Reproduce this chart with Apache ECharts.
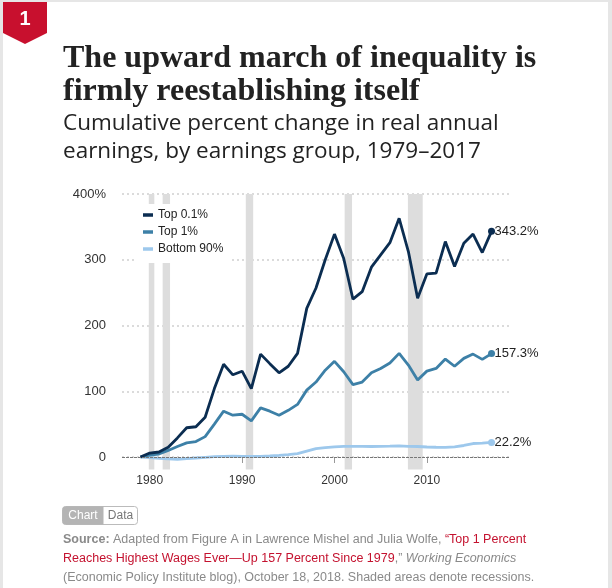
<!DOCTYPE html>
<html><head><meta charset="utf-8">
<script src="https://cdn.jsdelivr.net/npm/echarts@6/dist/echarts.min.js"></script>
<style>
html,body{margin:0;padding:0;background:#e6e6e6;width:612px;height:588px;overflow:hidden}
#card{position:absolute;left:3px;top:2px;width:605px;height:586px;background:#fff}
#chart{position:absolute;left:0;top:0;width:612px;height:588px}
</style></head><body><div id="card"></div><div id="chart"></div>
<script>
const years = [1979,1980,1981,1982,1983,1984,1985,1986,1987,1988,1989,1990,1991,1992,1993,1994,1995,1996,1997,1998,1999,2000,2001,2002,2003,2004,2005,2006,2007,2008,2009,2010,2011,2012,2013,2014,2015,2016,2017];
const top01 = [0,6,7.6,15,29,44.5,46,60.5,104,141,125,130.5,104,156.5,142,128,138,157.6,226,257,300,339,302,240,251.5,288.7,307.5,326,363,312.5,241.5,278.5,279.6,327.7,289.6,325,339,311,343.2];
const top1 = [0,3,4.5,10,16,21.5,23.5,31,50,69.7,63.6,65,55,74.7,69.7,63.6,71,80,101.7,114,132,145.5,129.6,110,114,128,134.7,143,157.6,139.8,117,130.6,134.7,149,138,150,156.5,148.5,157.3];
const bottom90 = [0,-1,-2,-3,-3.5,-2.5,-1.5,-0.5,0.5,1,1.2,1,0.8,1,1.5,2.5,3.6,5,9,12.8,14.3,15.5,16.3,16.3,16.3,16,16.3,16.5,17,16.3,16,15.2,14.8,14.5,15.5,17.5,20.5,21,22.2];
const seriesNames = ['Top 0.1%','Top 1%','Bottom 90%'];
const recessions = [[1979.9,1980.5],[1981.4,1982.2],[1990.4,1991.2],[2001.1,2001.9],[2007.95,2009.55]];
const xTicks = [1980,1990,2000,2010];
const BAND_BOTTOM = -19;

const colors = ['#0b2d51','#3d80a7','#9dc8ec'];
const sans = '"Liberation Sans", Arial, sans-serif';

function lineSeries(name, vals, color){
  const last = vals.length - 1;
  return {
    name, type:'line', clip:false, z:3,
    data: years.map((y,i)=>[y, vals[i]]),
    symbol: (v,p)=> p.dataIndex === last ? 'circle' : 'none',
    symbolSize: 7,
    lineStyle:{color, width:2.8},
    itemStyle:{color},
    emphasis:{disabled:true},
    endLabel:{show:true, distance:3, color:'#222', fontSize:13, fontFamily:sans,
      formatter: p => p.value[1].toFixed(1) + '%'},
    animation:false
  };
}

const chart = echarts.init(document.getElementById('chart'));
const zeroSeries = lineSeries(seriesNames[2], bottom90, colors[2]);
zeroSeries.markLine = {silent:true, symbol:'none', label:{show:false}, animation:false,
  lineStyle:{color:'#777', type:[3,1], width:1}, data:[{yAxis:0}]};

chart.setOption({
  backgroundColor:'transparent',
  animation:false,
  title:[
    {text:'The upward march of inequality is\nfirmly reestablishing itself', left:63, top:42, padding:0,
     textStyle:{fontFamily:'"Liberation Serif", serif', fontWeight:'bold', fontSize:32, lineHeight:33, color:'#222'}},
    {text:'Cumulative percent change in real annual\nearnings, by earnings group, 1979–2017', left:63, top:110, padding:0,
     textStyle:{fontFamily:'"Open Sans", sans-serif', fontWeight:'normal', fontSize:22.5, lineHeight:28, color:'#222'}}
  ],
  legend:{
    data:seriesNames, orient:'vertical', left:137, top:204, icon:'rect', itemWidth:10, itemHeight:3.5, itemGap:3,
    backgroundColor:'#fff', padding:[4,8,7,6], z:10,
    textStyle:{fontFamily:sans, fontSize:12, color:'#222', lineHeight:14}
  },
  grid:{left:122, right:102, top:194, bottom:131},
  xAxis:{type:'value', min:1977, max:2019, offset:12,
    axisLine:{show:false}, splitLine:{show:false},
    axisTick:{show:true, customValues:xTicks, length:6, lineStyle:{color:'#999'}},
    axisLabel:{customValues:xTicks, color:'#333', fontSize:12, fontFamily:sans, margin:6, formatter:v=>String(v)}
  },
  yAxis:{type:'value', min:0, max:400, interval:100,
    axisLine:{show:false}, axisTick:{show:false},
    axisLabel:{color:'#333', fontSize:13, fontFamily:sans, margin:16, formatter:v=> v===400 ? '400%' : String(v)},
    splitLine:{lineStyle:{color:'#cfcfcf', type:[2,3], width:1.5}}
  },
  series:[
    {name:'recessions', type:'custom', silent:true, z:1, clip:false,
     data:recessions,
     encode:{x:[0,1]},
     renderItem:(params, api)=>{
       const p0 = api.coord([api.value(0), 400]);
       const p1 = api.coord([api.value(1), BAND_BOTTOM]);
       return {type:'rect', shape:{x:p0[0], y:p0[1], width:p1[0]-p0[0], height:p1[1]-p0[1]}, style:{fill:'#dddddd'}};
     }},
    zeroSeries,
    lineSeries(seriesNames[1], top1, colors[1]),
    lineSeries(seriesNames[0], top01, colors[0])
  ],
  graphic:[
    {type:'polygon', shape:{points:[[3,2],[47,2],[47,33],[25,44],[3,33]]}, style:{fill:'#c8102e'}},
    {type:'text', x:25, y:19, style:{text:'1', fill:'#fff', font:'bold 20px "Liberation Sans", Arial', align:'center', verticalAlign:'middle'}},
    {type:'rect', shape:{x:62.5,y:506.5,width:75,height:18,r:3}, style:{fill:'#fff', stroke:'#bbb', lineWidth:1}},
    {type:'rect', shape:{x:62.5,y:506.5,width:41,height:18,r:[3,0,0,3]}, style:{fill:'#b4b4b4'}},
    {type:'text', x:83, y:515.5, style:{text:'Chart', fill:'#fff', font:'12px "Liberation Sans", Arial', align:'center', verticalAlign:'middle'}},
    {type:'text', x:120.5, y:515.5, style:{text:'Data', fill:'#777', font:'12px "Liberation Sans", Arial', align:'center', verticalAlign:'middle'}},
    {type:'text', x:63, y:530, style:{
      text:'{b|Source:} Adapted from Figure A in Lawrence Mishel and Julia Wolfe, {r|“Top 1 Percent}\n{r|Reaches Highest Wages Ever—Up 157 Percent Since 1979},” {i|Working Economics}\n(Economic Policy Institute blog), October 18, 2018. Shaded areas denote recessions.',
      fill:'#8a8a8a', font:'12.5px "Liberation Sans", Arial', lineHeight:19,
      rich:{
        b:{fontWeight:'bold', fontSize:12.5, fontFamily:'"Liberation Sans", Arial', fill:'#8a8a8a', lineHeight:19},
        r:{fontSize:12.5, fontFamily:'"Liberation Sans", Arial', fill:'#c4122f', lineHeight:19},
        i:{fontStyle:'italic', fontSize:12.5, fontFamily:'"Liberation Sans", Arial', fill:'#8a8a8a', lineHeight:19}
      }}}
  ]
});
</script></body></html>
